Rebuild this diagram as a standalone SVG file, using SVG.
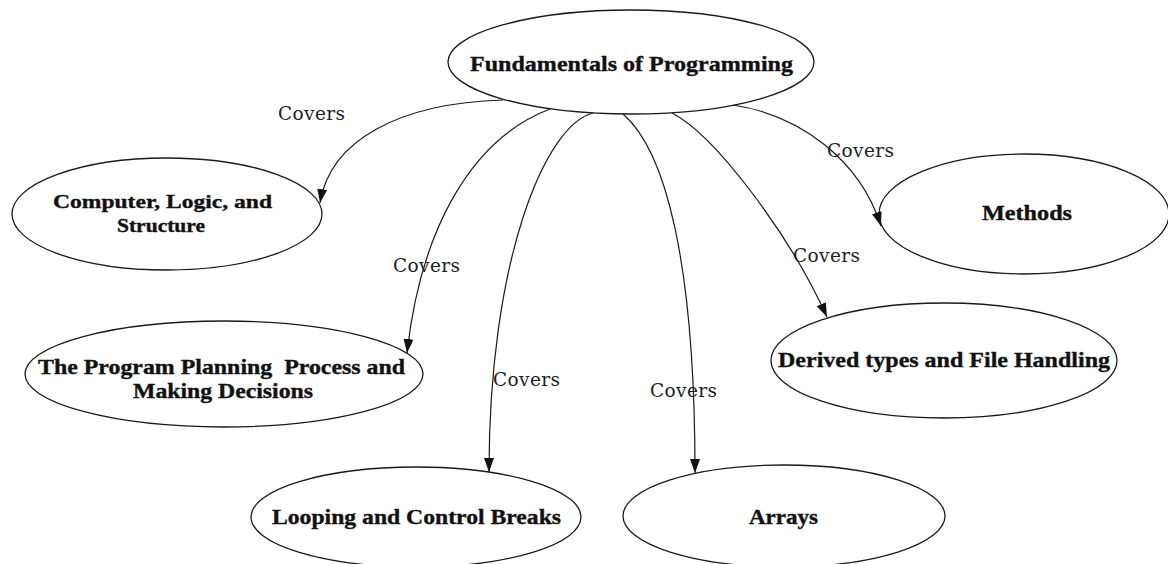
<svg xmlns="http://www.w3.org/2000/svg" width="1168" height="564" viewBox="0 0 1168 564">
  <style>
    .node ellipse { fill: #ffffff; stroke: #1a1a1a; stroke-width: 1.3; }
    .node text { font-family: "Liberation Serif", "Times New Roman", serif; font-weight: bold; fill: #111111; stroke: #111111; stroke-width: 0.35; text-anchor: middle; }
    .edge { fill: none; stroke: #1a1a1a; stroke-width: 1.2; marker-end: url(#arrow); }
    .label { font-family: "DejaVu Serif", "Liberation Serif", serif; font-size: 18.5px; fill: #1e1e1e; }
  </style>
  <defs>
    <marker id="arrow" markerUnits="userSpaceOnUse" markerWidth="15" markerHeight="11" refX="14" refY="5" orient="auto">
      <path d="M0,0 L14,5 L0,10 z" fill="#111111"/>
    </marker>
  </defs>
  <rect width="1168" height="564" fill="#ffffff"/>

  <!-- nodes -->
  <g id="fundamentals" class="node">
    <ellipse cx="631" cy="62" rx="183" ry="52"/>
    <text x="631.5" y="71" font-size="22" textLength="323" lengthAdjust="spacingAndGlyphs">Fundamentals of Programming</text>
  </g>
  <g id="computer-logic" class="node">
    <ellipse cx="167" cy="214" rx="155" ry="56"/>
    <text x="162.5" y="208" font-size="19" textLength="219" lengthAdjust="spacingAndGlyphs">Computer, Logic, and</text>
    <text x="161" y="232" font-size="19" textLength="88" lengthAdjust="spacingAndGlyphs">Structure</text>
  </g>
  <g id="program-planning" class="node">
    <ellipse cx="224" cy="374" rx="199" ry="53"/>
    <text x="221.5" y="374" font-size="20" textLength="367" lengthAdjust="spacingAndGlyphs" xml:space="preserve">The Program Planning  Process and</text>
    <text x="223" y="398" font-size="20" textLength="180" lengthAdjust="spacingAndGlyphs">Making Decisions</text>
  </g>
  <g id="looping" class="node">
    <ellipse cx="416" cy="517" rx="165" ry="50"/>
    <text x="416.5" y="524" font-size="20" textLength="289" lengthAdjust="spacingAndGlyphs">Looping and Control Breaks</text>
  </g>
  <g id="arrays" class="node">
    <ellipse cx="784" cy="516" rx="161" ry="51"/>
    <text x="783.5" y="524" font-size="20" textLength="69" lengthAdjust="spacingAndGlyphs">Arrays</text>
  </g>
  <g id="derived-types" class="node">
    <ellipse cx="944" cy="360.5" rx="173" ry="57.5"/>
    <text x="944" y="367" font-size="21" textLength="332" lengthAdjust="spacingAndGlyphs">Derived types and File Handling</text>
  </g>
  <g id="methods" class="node">
    <ellipse cx="1024" cy="214" rx="145" ry="60"/>
    <text x="1027" y="220" font-size="20" textLength="90" lengthAdjust="spacingAndGlyphs">Methods</text>
  </g>

  <!-- connectors -->
  <g id="connectors">
    <path class="edge" d="M503,100 C400,103 330,140 320,203"/>
    <path class="edge" d="M550,109 C468,140 420,235 407,353"/>
    <path class="edge" d="M593,113 C545,125 489,260 489,472"/>
    <path class="edge" d="M623,114 C665,150 695,260 695,473"/>
    <path class="edge" d="M672,113 C715,135 790,235 827,317"/>
    <path class="edge" d="M733,105 C800,115 860,160 881,226"/>
    <text class="label" x="278" y="120" textLength="67">Covers</text>
    <text class="label" x="393" y="272" textLength="67">Covers</text>
    <text class="label" x="493" y="386" textLength="67">Covers</text>
    <text class="label" x="650" y="397" textLength="67">Covers</text>
    <text class="label" x="793" y="262" textLength="67">Covers</text>
    <text class="label" x="827" y="157" textLength="67">Covers</text>
  </g>
</svg>
